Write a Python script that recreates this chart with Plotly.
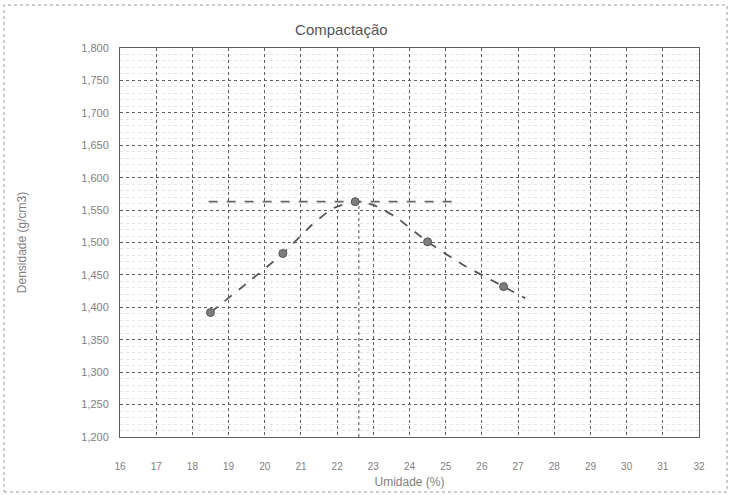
import plotly.graph_objects as go

# Ensaio de compactação: pontos medidos
umidade = [18.5, 20.5, 22.5, 24.5, 26.6]
densidade = [1.392, 1.483, 1.563, 1.501, 1.432]

# Curva de compactação traçada pelos pontos
curva_umidade = [18.5, 19.5, 20.5, 21.3, 21.9, 22.5, 23.0, 23.6, 24.5, 25.5, 26.6, 27.2]
curva_densidade = [1.392, 1.437, 1.483, 1.527, 1.553, 1.563, 1.558, 1.540, 1.501, 1.465, 1.432, 1.414]

# Densidade máxima e umidade ótima
dens_max = 1.563
umid_otima = 22.6
linha_h_x = [18.45, 25.3]
linha_v_y = [1.200, 1.563]

x_ticks = list(range(16, 33))
y_range = [1.200, 1.800]

fonte = "Liberation Sans, Arial, sans-serif"

fig = go.Figure()

fig.add_trace(go.Scatter(
    x=linha_h_x, y=[dens_max, dens_max], mode="lines",
    line=dict(color="#666666", width=1.6, dash="dash"), hoverinfo="skip"))
fig.add_trace(go.Scatter(
    x=[umid_otima, umid_otima], y=linha_v_y, mode="lines",
    line=dict(color="#777777", width=1.3, dash="dot"), hoverinfo="skip"))
fig.add_trace(go.Scatter(
    x=curva_umidade, y=curva_densidade, mode="lines",
    line=dict(color="#555555", width=1.8, dash="dash", shape="spline", smoothing=0.6),
    hoverinfo="skip"))
fig.add_trace(go.Scatter(
    x=umidade, y=densidade, mode="markers",
    marker=dict(size=8, color="#7d7d7d", line=dict(color="#555555", width=1))))

# Moldura externa do gráfico
fig.add_shape(type="rect", xref="paper", yref="paper",
              x0=-0.2003, x1=1.0484, y0=-0.1414, y1=1.1105,
              line=dict(color="#9a9a9a", width=1, dash="dot"), layer="below")

fig.update_layout(
    width=731, height=495,
    margin=dict(l=120, r=32, t=48, b=58),
    paper_bgcolor="white", plot_bgcolor="white",
    showlegend=False,
    separators=",.",
    font=dict(family=fonte, color="#666666", size=11),
    title=dict(text="Compactação", x=0.467, xanchor="center", y=0.94, yanchor="middle",
               font=dict(size=15, color="#555555", family=fonte)),
)

fig.update_xaxes(
    range=[16, 32], tickmode="array", tickvals=x_ticks, automargin=False,
    ticks="", showgrid=True, gridcolor="#5e5e5e", gridwidth=1, griddash="dot",
    showline=True, linecolor="#5e5e5e", linewidth=1, mirror=True, zeroline=False,
    tickfont=dict(size=10, color="#808080"), ticklabelstandoff=20,
    title=dict(text="Umidade (%)", font=dict(size=12, color="#808080"), standoff=6),
)
fig.update_yaxes(
    range=y_range, dtick=0.05, tickformat=".3f", automargin=False,
    ticks="", showgrid=True, gridcolor="#5e5e5e", gridwidth=1, griddash="dot",
    minor=dict(dtick=0.01, showgrid=True, gridcolor="#e4e4e4", griddash="dot", gridwidth=1),
    showline=True, linecolor="#5e5e5e", linewidth=1, mirror=True, zeroline=False,
    tickfont=dict(size=11, color="#808080"), ticklabelstandoff=8,
    title=dict(text="Densidade (g/cm3)", font=dict(size=12, color="#808080"), standoff=52),
)

fig.write_html("out.html")
